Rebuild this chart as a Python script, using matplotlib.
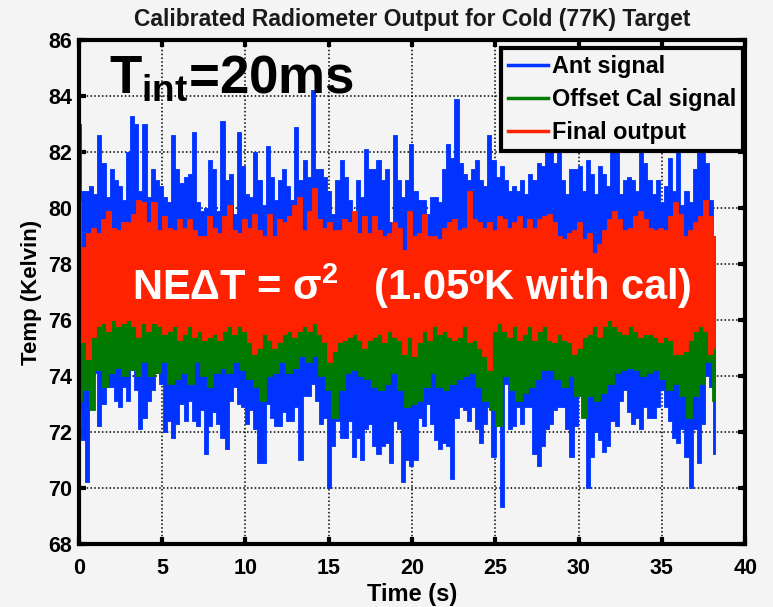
import numpy as np
import matplotlib
matplotlib.use("Agg")
import matplotlib.pyplot as plt
from matplotlib.lines import Line2D

# ------------------------------------------------------------
# values (peaks / troughs of each trace)
# ------------------------------------------------------------
t_end = 38.2

ant_hi = [83.0, 80.6, 80.6, 80.8, 80.5, 82.6, 81.6, 80.4, 81.4, 81.0,
          80.8, 80.3, 82.0, 83.3, 83.0, 80.6, 83.0, 80.4, 81.4, 81.0,
          80.8, 80.4, 80.2, 82.6, 81.4, 80.9, 81.1, 81.2, 82.7, 80.2,
          79.9, 80.0, 81.7, 81.4, 79.9, 83.1, 81.0, 81.2, 79.8, 82.7,
          81.5, 80.5, 80.4, 82.0, 81.0, 80.1, 82.2, 81.1, 80.3, 81.0,
          81.4, 80.8, 80.3, 82.9, 81.0, 81.7, 81.1, 84.2, 81.4, 81.4,
          81.1, 80.6, 79.8, 81.0, 81.7, 81.1, 80.3, 79.2, 81.0, 80.4,
          82.1, 81.4, 81.4, 81.7, 81.0, 81.4, 79.5, 82.6, 81.0, 80.4,
          81.0, 82.3, 80.6, 80.3, 80.3, 79.8, 80.4, 80.4, 80.2, 81.4,
          82.3, 81.8, 83.9, 81.6, 81.2, 81.0, 81.4, 81.7, 81.0, 80.8,
          82.6, 81.7, 81.1, 81.5, 81.0, 80.6, 80.8, 80.6, 81.0, 80.5,
          81.2, 81.0, 81.6, 81.5, 82.8, 82.4, 81.6, 82.5, 81.0, 80.5,
          81.4, 81.4, 81.5, 80.6, 81.7, 81.2, 80.5, 81.5, 81.2, 80.8,
          82.6, 82.9, 80.5, 81.0, 81.1, 81.0, 80.6, 82.7, 81.6, 81.0,
          80.5, 81.0, 80.2, 80.8, 81.8, 80.6, 82.8, 80.1, 80.6, 80.2,
          81.4, 82.9, 82.6, 81.6, 80.3, 79.0]

ant_lo = [72.8, 71.7, 70.2, 74.7, 74.1, 72.2, 73.0, 73.6, 73.6, 73.1,
          72.9, 73.6, 73.1, 74.2, 73.5, 72.1, 72.5, 73.1, 73.5, 74.1,
          73.7, 72.0, 72.4, 71.8, 72.3, 73.0, 72.4, 73.1, 72.4, 72.2,
          72.8, 71.2, 72.2, 72.7, 72.3, 71.8, 71.4, 73.1, 73.6, 73.0,
          72.9, 72.3, 72.8, 72.1, 70.9, 70.9, 73.0, 72.5, 72.2, 72.2,
          72.7, 72.4, 72.4, 72.9, 71.0, 73.3, 73.3, 73.7, 73.1, 72.3,
          72.5, 70.0, 71.5, 72.4, 71.8, 71.8, 72.4, 71.1, 71.8, 71.0,
          72.1, 72.3, 71.5, 71.2, 71.5, 71.6, 70.9, 72.4, 72.1, 70.2,
          71.0, 70.8, 71.0, 72.5, 72.2, 73.0, 72.3, 71.7, 71.4, 71.6,
          71.5, 70.3, 72.5, 72.9, 72.8, 72.4, 72.9, 72.1, 71.6, 72.3,
          72.9, 71.1, 72.9, 69.3, 73.7, 72.1, 72.2, 72.9, 72.3, 72.9,
          72.9, 71.2, 70.8, 71.5, 72.1, 72.3, 72.8, 72.9, 72.9, 72.1,
          71.1, 72.2, 73.3, 73.0, 70.0, 71.1, 72.0, 71.7, 71.3, 71.5,
          72.4, 72.2, 73.1, 73.5, 72.7, 72.3, 72.5, 72.1, 72.9, 72.5,
          72.5, 72.9, 73.5, 72.9, 72.4, 71.8, 71.6, 72.1, 71.1, 70.0,
          72.1, 70.9, 72.3, 74.0, 73.6, 71.2, 70.3]

cal_hi = [77.2, 76.8, 77.5, 76.9, 77.3, 77.0, 76.6, 77.4, 77.1, 76.9,
          77.6, 77.0, 76.7, 77.3, 77.2, 76.8, 77.5, 77.1, 76.9, 77.4,
          76.6, 77.2, 77.0, 77.7, 76.8, 77.3, 77.1, 76.9, 77.5, 77.0,
          76.7, 77.2, 77.4, 76.9, 77.1, 77.6, 76.8, 77.3, 77.0, 76.6,
          77.4, 77.2, 76.9, 77.5, 77.1, 76.8, 77.3, 77.0, 77.6, 76.9,
          77.2, 77.4, 76.7, 77.1, 77.3, 76.9, 77.5, 77.0, 76.8, 77.2,
          77.6, 77.0, 76.9, 77.3, 77.1, 76.7, 77.4, 77.2, 76.9, 77.5,
          77.0, 76.8, 77.3, 77.1, 77.6, 76.9, 77.2, 77.0, 76.7, 77.4,
          77.1, 76.9, 77.3, 77.5, 76.8, 77.2, 77.0, 77.4, 76.9, 77.1,
          77.6, 76.8, 77.3, 77.0, 76.9, 77.2, 77.4, 77.0]

cal_lo = [73.1, 73.5, 72.8, 74.2, 73.6, 74.1, 74.3, 74.0, 74.2, 74.0,
          74.5, 74.0, 74.1, 74.5, 73.7, 73.9, 74.1, 73.7, 74.5, 74.0,
          73.6, 74.1, 74.3, 74.1, 74.5, 74.2, 73.9, 73.6, 73.1, 74.0,
          74.1, 74.5, 74.1, 74.3, 74.7, 74.5, 74.7, 74.0, 73.5, 72.5,
          73.5, 74.1, 74.2, 74.0, 73.9, 73.6, 73.5, 73.7, 74.1, 73.5,
          72.9, 73.0, 73.1, 73.6, 74.1, 73.6, 73.5, 73.7, 73.9, 74.0,
          74.1, 73.6, 73.1, 72.8, 72.2, 74.0, 73.5, 73.1, 73.4, 73.6,
          73.9, 74.2, 74.2, 73.9, 73.6, 74.0, 73.3, 72.5, 73.3, 73.1,
          73.4, 73.7, 74.1, 74.2, 74.3, 74.2, 74.0, 74.1, 74.2, 73.9,
          73.5, 73.7, 73.3, 72.5, 73.3, 73.7, 74.5, 73.1]

out_hi = [80.2, 78.6, 79.1, 79.3, 79.1, 79.6, 79.9, 79.3, 79.2, 79.5,
          79.5, 79.8, 80.3, 80.2, 79.5, 80.2, 79.2, 79.7, 79.3, 79.2,
          79.6, 79.3, 79.6, 79.2, 79.0, 79.0, 79.7, 79.3, 79.1, 79.7,
          80.1, 79.2, 79.1, 79.6, 79.3, 79.8, 79.2, 79.0, 79.8, 79.0,
          79.6, 79.5, 79.7, 80.1, 80.4, 79.2, 79.9, 80.7, 79.6, 79.3,
          79.5, 79.2, 79.2, 79.6, 79.5, 79.9, 79.1, 79.7, 79.1, 79.7,
          79.2, 79.0, 79.1, 79.5, 79.3, 78.5, 79.9, 79.0, 79.1, 79.8,
          79.0, 79.0, 78.9, 79.3, 79.5, 79.6, 79.2, 79.3, 80.6, 79.6,
          79.5, 79.3, 79.5, 79.2, 79.7, 79.6, 79.3, 79.5, 79.7, 79.3,
          79.6, 79.3, 79.6, 79.7, 79.8, 79.5, 79.0, 78.9, 79.1, 79.2,
          79.5, 78.9, 79.1, 78.4, 78.7, 79.2, 79.6, 79.9, 79.6, 79.2,
          79.3, 79.7, 79.9, 79.6, 79.3, 79.2, 79.3, 79.2, 79.7, 80.2,
          79.8, 79.0, 79.2, 79.5, 79.7, 80.3, 79.7, 79.0, 78.9]

out_lo = [75.6, 75.2, 74.6, 75.4, 75.8, 75.9, 75.6, 76.0, 75.8, 75.9,
          76.0, 75.8, 75.4, 75.9, 75.6, 75.9, 75.8, 75.5, 75.6, 75.8,
          75.3, 75.5, 75.8, 75.4, 75.6, 75.3, 75.4, 75.5, 75.3, 75.6,
          75.8, 75.5, 75.8, 75.6, 75.2, 74.8, 75.0, 75.5, 75.3, 75.0,
          75.2, 75.5, 75.6, 75.4, 75.6, 75.8, 75.6, 75.9, 75.5, 75.2,
          74.5, 74.9, 75.2, 75.3, 75.4, 75.5, 75.3, 75.0, 75.3, 75.4,
          75.5, 75.2, 75.6, 75.4, 75.3, 74.8, 75.4, 74.7, 75.2, 75.6,
          75.3, 75.8, 75.5, 75.6, 75.4, 75.3, 75.4, 75.8, 75.2, 75.3,
          75.0, 74.7, 74.2, 75.6, 75.9, 75.6, 75.4, 75.8, 75.3, 75.5,
          75.8, 75.3, 75.6, 75.8, 75.3, 75.2, 75.5, 75.3, 75.2, 74.8,
          75.0, 75.4, 75.5, 75.8, 75.4, 75.8, 76.0, 75.8, 75.6, 75.5,
          75.8, 75.6, 75.4, 75.5, 75.5, 75.4, 75.2, 75.4, 75.3, 74.8,
          74.8, 74.9, 75.3, 75.6, 75.8, 75.6, 74.8, 75.0]

labels = ['Ant signal', 'Offset Cal signal', 'Final output']
colors = ['#0033ff', '#007a00', '#ff2200']
bg = '#f4f4f4'

plt.rcParams['font.family'] = ['Liberation Sans', 'DejaVu Sans']
plt.rcParams['font.weight'] = 'bold'
plt.rcParams['mathtext.fontset'] = 'custom'
plt.rcParams['mathtext.rm'] = 'Liberation Sans:bold'
plt.rcParams['mathtext.bf'] = 'Liberation Sans:bold'
plt.rcParams['mathtext.it'] = 'Liberation Sans:bold'

fig = plt.figure(figsize=(7.73, 6.07), dpi=100, facecolor=bg)
ax = fig.add_axes([0.102, 0.104, 0.862, 0.830], facecolor=bg)

# each sample drawn as a bar from trough to peak, so the dense trace reads solid
for (hi, lo), col in zip([(ant_hi, ant_lo), (cal_hi, cal_lo), (out_hi, out_lo)], colors):
    n = min(len(hi), len(lo))
    t = np.linspace(0, t_end, n)
    ax.fill_between(t, lo[:n], hi[:n], step='mid', color=col, lw=0.6, edgecolor=col)

ax.set_xlim(0, 40)
ax.set_ylim(68, 86)
ax.set_xticks(range(0, 41, 5))
ax.set_yticks(range(68, 87, 2))
ax.set_axisbelow(True)
ax.grid(True, color='black', linestyle=(0, (1, 1.5)), lw=1.1)
ax.tick_params(direction='in', top=True, right=True, length=5, width=3,
               labelsize=15.5)
ax.tick_params(axis='x', pad=10)
ax.tick_params(axis='y', pad=5)
for s in ax.spines.values():
    s.set_linewidth(3)

ax.set_title('Calibrated Radiometer Output for Cold (77K) Target',
             fontsize=16.5, fontweight='bold', color='#1a1a1a', pad=10)
ax.set_xlabel('Time (s)', fontsize=17, fontweight='bold', labelpad=3)
ax.set_ylabel('Temp (Kelvin)', fontsize=16, fontweight='bold', labelpad=4)

handles = [Line2D([], [], color=c, lw=2.5) for c in colors]
leg = ax.legend(handles, labels, loc='upper right', bbox_to_anchor=(0.997, 0.984),
                fontsize=16.8, frameon=True, fancybox=False, framealpha=1,
                facecolor=bg, edgecolor='black', handlelength=1.7,
                handletextpad=0.17, labelspacing=0.42, borderpad=0.3,
                borderaxespad=0)
leg.get_frame().set_linewidth(3)

ax.text(0.046, 0.895, r'$\mathbf{T_{int}}$=20ms', transform=ax.transAxes,
        fontsize=38, fontweight='bold', ha='left', va='baseline')
ax.text(0.499, 0.484, 'NEΔT = σ$^{\\mathbf{2}}$   (1.05ºK with cal)',
        transform=ax.transAxes, fontsize=30, fontweight='bold', color='white',
        ha='center', va='baseline')

fig.savefig('out.png', dpi=100, facecolor=bg)
